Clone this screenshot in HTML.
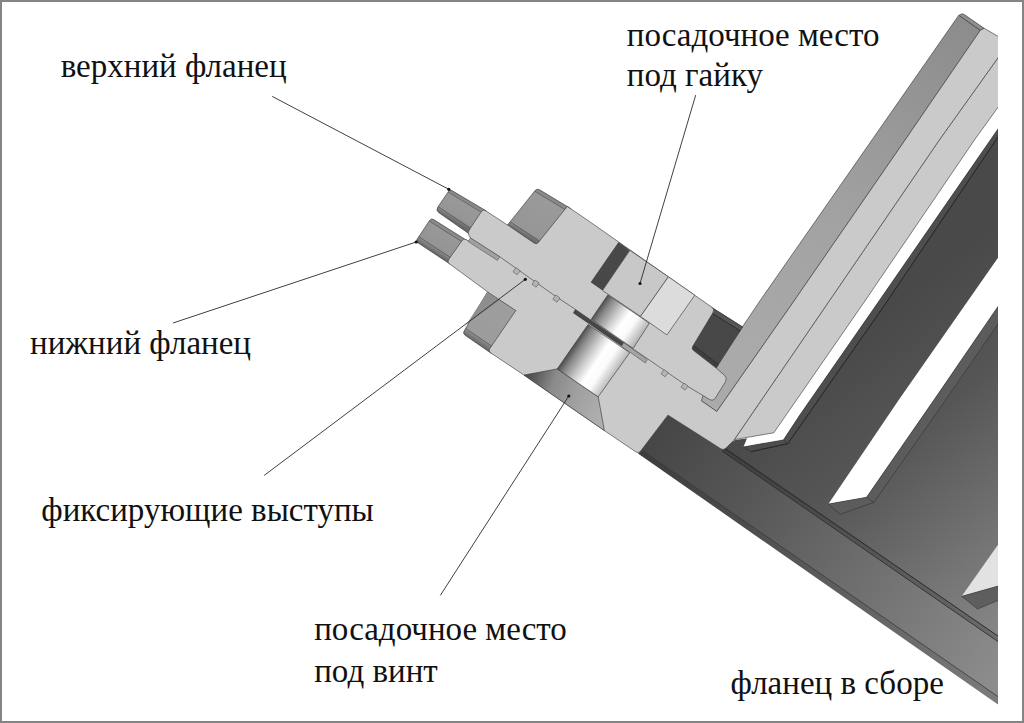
<!DOCTYPE html>
<html><head><meta charset="utf-8"><title>фланец в сборе</title>
<style>
html,body{margin:0;padding:0;background:#fff;}
body{width:1024px;height:723px;overflow:hidden;position:relative;font-family:"Liberation Serif",serif;}
#frame{position:absolute;left:0;top:0;width:1020px;height:719px;border:2px solid #848484;}
svg{position:absolute;left:0;top:0;}
svg text{font-family:"Liberation Serif",serif;font-size:33px;fill:#111;}
</style></head><body>
<svg width="1024" height="723" viewBox="0 0 1024 723">
<defs>
<clipPath id="clip"><rect x="0" y="0" width="998" height="723"/></clipPath>
<linearGradient id="gBase" gradientUnits="userSpaceOnUse" x1="800" y1="380" x2="1000" y2="630">
  <stop offset="0" stop-color="#494949"/><stop offset="0.35" stop-color="#565656"/><stop offset="1" stop-color="#868686"/></linearGradient>
<linearGradient id="gBand" gradientUnits="userSpaceOnUse" x1="640" y1="440" x2="1000" y2="690">
  <stop offset="0" stop-color="#454545"/><stop offset="0.3" stop-color="#585858"/><stop offset="1" stop-color="#8e8e8e"/></linearGradient>
<linearGradient id="gStripe2" gradientUnits="userSpaceOnUse" x1="860" y1="500" x2="1000" y2="330">
  <stop offset="0" stop-color="#5c5c5c"/><stop offset="1" stop-color="#6e6e6e"/></linearGradient>
<linearGradient id="gPlateSide" gradientUnits="userSpaceOnUse" x1="970" y1="20" x2="740" y2="350">
  <stop offset="0" stop-color="#8c8c8c"/><stop offset="0.6" stop-color="#a2a2a2"/><stop offset="1" stop-color="#aaaaaa"/></linearGradient>
<linearGradient id="gBoreL" gradientUnits="userSpaceOnUse" x1="573" y1="345" x2="616" y2="374">
  <stop offset="0" stop-color="#484848"/><stop offset="0.14" stop-color="#868686"/><stop offset="0.38" stop-color="#cfcfcf"/>
  <stop offset="0.56" stop-color="#ffffff"/><stop offset="0.74" stop-color="#fbfbfb"/>
  <stop offset="1" stop-color="#b4b4b4"/></linearGradient>
<linearGradient id="gBoreU" gradientUnits="userSpaceOnUse" x1="599" y1="306" x2="641" y2="336">
  <stop offset="0" stop-color="#484848"/><stop offset="0.14" stop-color="#868686"/><stop offset="0.38" stop-color="#cfcfcf"/>
  <stop offset="0.56" stop-color="#ffffff"/><stop offset="0.74" stop-color="#fbfbfb"/>
  <stop offset="1" stop-color="#b4b4b4"/></linearGradient>
<linearGradient id="gCsk" gradientUnits="userSpaceOnUse" x1="530" y1="378" x2="603" y2="405">
  <stop offset="0" stop-color="#505050"/><stop offset="0.3" stop-color="#8a8a8a"/><stop offset="0.6" stop-color="#9e9e9e"/><stop offset="1" stop-color="#aeaeae"/></linearGradient>
</defs>
<defs><linearGradient id="gf1" gradientUnits="userSpaceOnUse" x1="431.2" y1="218.0" x2="416.2" y2="241.7"><stop offset="0" stop-color="#868686"/><stop offset="0.13" stop-color="#8c8c8c"/><stop offset="0.13" stop-color="#989898"/><stop offset="0.8" stop-color="#949494"/><stop offset="0.8" stop-color="#8e8e8e"/><stop offset="1" stop-color="#666666"/></linearGradient><linearGradient id="gf2" gradientUnits="userSpaceOnUse" x1="487.6" y1="291.8" x2="460.9" y2="332.5"><stop offset="0" stop-color="#9e9e9e"/><stop offset="0.875" stop-color="#9c9c9c"/><stop offset="0.875" stop-color="#909090"/><stop offset="1" stop-color="#686868"/></linearGradient><linearGradient id="gf3" gradientUnits="userSpaceOnUse" x1="537.0" y1="188.3" x2="513.1" y2="228.3"><stop offset="0" stop-color="#868686"/><stop offset="0.08" stop-color="#8c8c8c"/><stop offset="0.08" stop-color="#9a9a9a"/><stop offset="0.91" stop-color="#969696"/><stop offset="0.91" stop-color="#8e8e8e"/><stop offset="1" stop-color="#6a6a6a"/></linearGradient><linearGradient id="gf4" gradientUnits="userSpaceOnUse" x1="449.9" y1="189.3" x2="436.9" y2="211.2"><stop offset="0" stop-color="#868686"/><stop offset="0.13" stop-color="#8c8c8c"/><stop offset="0.13" stop-color="#999999"/><stop offset="0.82" stop-color="#959595"/><stop offset="0.82" stop-color="#8f8f8f"/><stop offset="1" stop-color="#686868"/></linearGradient></defs>
<g clip-path="url(#clip)">
<polygon points="1000.0,84.0 1000.0,640.0 722.0,449.0 735.0,440.0 750.0,438.0" fill="url(#gBase)" stroke-linejoin="round" />
<polygon points="1000.0,637.0 1000.0,706.0 638.0,453.5 668.0,415.0 724.0,450.0" fill="url(#gBand)" stroke-linejoin="round" />
<polygon points="724.0,447.5 1000.0,637.5 1000.0,643.0 722.0,451.0" fill="#000" stroke-linejoin="round" fill-opacity="0.22"/>
<line x1="724" y1="447.5" x2="1000" y2="637.5" stroke="#2c2c2c" stroke-width="1.0"/>
<line x1="722" y1="451" x2="1000" y2="643" stroke="#2e2e2e" stroke-width="0.9"/>
<polygon points="643.0,451.0 1000.0,698.0 1000.0,706.0 638.0,453.5" fill="#000" stroke-linejoin="round" fill-opacity="0.13"/>
<line x1="643" y1="451" x2="1000" y2="698" stroke="#3a3a3a" stroke-width="0.8"/>
<polygon points="1000.0,98.0 1000.0,126.0 879.7,300.0 799.8,415.0 783.4,439.9 743.4,446.9 747.6,437.0 760.0,430.0" fill="#ffffff" stroke-linejoin="round" />
<polygon points="1000.0,126.0 1000.0,134.0 886.0,303.0 787.8,443.7 751.0,451.6 743.4,446.9 783.4,439.9 799.8,415.0 879.7,300.0" fill="#4e4e4e" stroke="#2c2c2c" stroke-width="0.5" stroke-linejoin="round" />
<polyline points="1000.0,134.0 886.0,303.0 787.8,443.7 751.0,451.6" fill="none" stroke="#262626" stroke-width="0.9" stroke-linejoin="round"/>
<line x1="783.4" y1="439.9" x2="787.8" y2="443.7" stroke="#2c2c2c" stroke-width="0.5"/>
<polygon points="1000.0,255.0 1000.0,303.5 933.9,400.0 866.5,497.3 828.4,504.0 898.7,400.0" fill="#ffffff" stroke-linejoin="round" />
<polygon points="1000.0,303.5 1000.0,321.0 945.6,400.0 873.8,502.5 840.1,514.3 828.4,504.0 866.5,497.3 933.9,400.0" fill="#5c5c5c" stroke="#2c2c2c" stroke-width="0.5" stroke-linejoin="round" />
<line x1="866.5" y1="497.3" x2="873.8" y2="502.5" stroke="#2c2c2c" stroke-width="0.5"/>
<polygon points="1000.0,542.0 961.7,596.3 1000.0,585.5" fill="#e2e2e2" stroke-linejoin="round" />
<polygon points="961.7,596.3 1000.0,585.5 1000.0,599.6 977.5,609.0" fill="#5e5e5e" stroke="#2c2c2c" stroke-width="0.5" stroke-linejoin="round" />
<polygon points="958.8,15.2 760.5,300.0 734.9,338.0 700.0,350.0 701.5,400.9 716.8,411.5 794.7,300.0 905.1,140.0 980.3,30.3" fill="url(#gPlateSide)" stroke="#333" stroke-width="0.6" stroke-linejoin="round" />
<path d="M959.6,15.8 Q958.8,15.2 959.7,14.8 L960.9,14.2 Q962.7,13.4 964.3,14.5 L984.2,28.3 L980.3,30.3 Z" fill="#8e8e8e" stroke="#333" stroke-width="0.6" stroke-linejoin="round" />
<polygon points="1000.0,55.0 1000.0,104.5 974.4,140.0 865.6,300.0 773.8,432.8 734.3,439.6 829.9,300.0 939.3,140.0" fill="#cacaca" stroke="#333" stroke-width="0.6" stroke-linejoin="round" />
</g>
<path d="M429.5,220.5 Q431.2,218.0 433.7,219.6 L467.0,240.5 L450.3,264.2 L417.8,242.8 Q415.7,241.4 417.1,239.3 Z" fill="url(#gf1)" stroke="#333" stroke-width="0.6" stroke-linejoin="round" />
<line x1="429.2" y1="221.0" x2="464.8" y2="243.6" stroke="#3a3a3a" stroke-width="0.5"/>
<line x1="418.8" y1="236.7" x2="453.7" y2="259.5" stroke="#3a3a3a" stroke-width="0.5"/>
<path d="M487.6,291.8 L519.2,312.6 L491.4,353.4 L465.1,335.3 Q462.6,333.6 464.1,331.0 Z" fill="url(#gf2)" stroke="#333" stroke-width="0.6" stroke-linejoin="round" />
<line x1="465.7" y1="328.4" x2="494.9" y2="348.3" stroke="#3a3a3a" stroke-width="0.5"/>
<polygon points="487.6,291.8 500.0,299.9 467.2,324.0 464.5,327.5" fill="#8e8e8e" stroke-linejoin="round" />
<g clip-path="url(#clip)">
<path d="M515.9,310.4 L499.0,262.0 L575.2,300.0 L640.0,340.0 L704.0,392.0 L701.5,400.9 L716.8,411.5 L794.7,300.0 L905.1,140.0 L980.3,30.3 L984.2,28.3 L1000.0,37.5 L1000.0,55.0 L939.3,140.0 L829.9,300.0 L734.3,439.6 L726.0,448.1 Q723.6,450.6 720.7,448.7 L667.9,415.0 L640.7,451.0 Q638.6,453.8 635.7,451.8 L604.4,430.6 L524.0,375.1 L490.6,352.8 Q488.1,351.1 489.8,348.6 Z" fill="#cacaca" stroke="#333" stroke-width="0.6" stroke-linejoin="round" />
</g>
<path d="M462.2,240.4 Q463.6,238.4 465.8,239.5 L497.4,255.0 L560.0,285.0 L515.9,310.4 L487.6,291.8 L449.4,263.8 Q447.0,262.0 448.7,259.5 Z" fill="#cacaca" stroke="#333" stroke-width="0.6" stroke-linejoin="round" />
<polygon points="497.4,255.0 585.0,300.0 560.0,330.0 516.5,310.4 488.3,291.8" fill="#cacaca" stroke-linejoin="round" />
<polygon points="524.0,375.1 557.2,368.9 598.2,396.8 604.4,430.6" fill="url(#gCsk)" stroke="#333" stroke-width="0.6" stroke-linejoin="round" />
<polygon points="557.2,368.9 588.1,324.5 629.7,352.7 598.2,396.8" fill="url(#gBoreL)" stroke="#333" stroke-width="0.6" stroke-linejoin="round" />
<path d="M711.0,307.0 L742.6,327.0 L716.2,368.1 L693.6,350.6 Q691.2,348.8 692.5,346.1 Z" fill="#484848" stroke="#333" stroke-width="0.6" stroke-linejoin="round" />
<polygon points="711.0,307.0 742.6,327.0 740.1,330.9 708.5,310.9" fill="#555555" stroke-linejoin="round" />
<line x1="708.5" y1="310.9" x2="740.1" y2="330.9" stroke="#262626" stroke-width="0.9"/>
<line x1="711.0" y1="307.0" x2="742.6" y2="327.0" stroke="#333" stroke-width="0.6"/>
<polygon points="692.9,344.9 718.6,364.4 716.2,368.1 691.2,348.8" fill="#3e3e3e" stroke-linejoin="round" />
<line x1="692.9" y1="344.9" x2="718.6" y2="364.4" stroke="#2a2a2a" stroke-width="0.7"/>
<path d="M535.1,190.6 Q537.0,188.3 539.6,189.8 L570.7,208.5 L539.8,246.9 L507.5,225.0 Z" fill="url(#gf3)" stroke="#333" stroke-width="0.6" stroke-linejoin="round" />
<line x1="534.6" y1="191.2" x2="568.3" y2="211.5" stroke="#3a3a3a" stroke-width="0.5"/>
<line x1="510.2" y1="221.7" x2="542.6" y2="243.5" stroke="#3a3a3a" stroke-width="0.5"/>
<path d="M448.5,191.4 Q449.9,189.3 452.0,190.6 L486.5,211.1 L470.8,235.0 L438.9,212.7 Q435.6,210.4 437.8,207.1 Z" fill="url(#gf4)" stroke="#333" stroke-width="0.6" stroke-linejoin="round" />
<line x1="448.0" y1="192.0" x2="484.5" y2="214.2" stroke="#3a3a3a" stroke-width="0.5"/>
<line x1="438.2" y1="206.6" x2="473.6" y2="230.7" stroke="#3a3a3a" stroke-width="0.5"/>
<path d="M481.4,211.6 Q483.1,209.1 485.6,210.7 L505.8,223.9 Q507.5,225.0 509.2,226.1 L534.0,243.0 Q536.5,244.7 538.4,242.4 L567.3,206.4 L587.3,220.0 L711.7,307.1 Q715.0,309.4 712.9,312.8 L692.8,346.2 Q691.2,348.8 693.6,350.6 L716.2,368.1 L724.4,375.2 Q727.8,378.1 725.4,381.9 L715.5,397.8 Q713.1,401.6 709.2,399.3 L687.5,386.3 L643.5,356.0 L623.8,342.7 L575.2,309.3 L556.4,296.8 L499.8,256.8 L470.4,237.9 L468.9,235.3 Q467.5,232.7 469.1,230.2 Z" fill="#cacaca" stroke="#333" stroke-width="0.6" stroke-linejoin="round" />
<polygon points="470.4,237.9 499.8,256.8 497.4,260.4 468.2,241.6" fill="#a0a0a0" stroke="#444" stroke-width="0.5" stroke-linejoin="round" />
<polygon points="607.8,294.9 649.3,323.2 633.2,348.4 591.2,319.3" fill="url(#gBoreU)" stroke="#333" stroke-width="0.6" stroke-linejoin="round" />
<polygon points="575.2,309.3 623.8,342.7 621.5,346.2 573.0,313.0" fill="#464646" stroke-linejoin="round" />
<polygon points="623.8,342.7 647.3,359.7 645.3,363.0 621.5,346.2" fill="#a4a4a4" stroke="#444" stroke-width="0.5" stroke-linejoin="round" />
<polygon points="618.6,241.9 629.9,250.3 602.5,290.5 590.7,282.2" fill="#484848" stroke-linejoin="round" />
<polygon points="629.9,250.3 668.4,276.8 640.5,316.4 602.5,290.5" fill="#c8c8c8" stroke="#333" stroke-width="0.6" stroke-linejoin="round" />
<polygon points="668.4,276.8 694.8,295.2 666.9,334.9 640.5,316.4" fill="#dcdcdc" stroke="#333" stroke-width="0.6" stroke-linejoin="round" />
<polygon points="516.0,267.6 520.2,270.6 517.2,274.8 513.0,271.8" fill="#b4b4b4" stroke="#444" stroke-width="0.5" stroke-linejoin="round" />
<polygon points="535.0,280.0 539.2,283.0 536.2,287.2 532.0,284.2" fill="#b4b4b4" stroke="#444" stroke-width="0.5" stroke-linejoin="round" />
<polygon points="555.8,295.0 560.0,298.0 557.0,302.2 552.8,299.2" fill="#b4b4b4" stroke="#444" stroke-width="0.5" stroke-linejoin="round" />
<polygon points="664.0,369.6 668.2,372.6 665.2,376.8 661.0,373.8" fill="#b4b4b4" stroke="#444" stroke-width="0.5" stroke-linejoin="round" />
<polygon points="683.9,383.0 688.1,386.0 685.1,390.2 680.9,387.2" fill="#b4b4b4" stroke="#444" stroke-width="0.5" stroke-linejoin="round" />
<line x1="272.2" y1="96.4" x2="448.8" y2="189.3" stroke="#2a2a2a" stroke-width="0.9"/>
<circle cx="448.8" cy="189.3" r="1.6" fill="#111"/>
<line x1="695.7" y1="95.1" x2="640" y2="283.5" stroke="#2a2a2a" stroke-width="0.9"/>
<circle cx="640" cy="283.5" r="1.6" fill="#111"/>
<line x1="173" y1="323" x2="416.2" y2="242.0" stroke="#2a2a2a" stroke-width="0.9"/>
<circle cx="416.2" cy="242.0" r="1.6" fill="#111"/>
<line x1="264.2" y1="475.4" x2="525.3" y2="279.3" stroke="#2a2a2a" stroke-width="0.9"/>
<circle cx="525.3" cy="279.3" r="1.6" fill="#111"/>
<line x1="440.3" y1="595.4" x2="568.8" y2="396.0" stroke="#2a2a2a" stroke-width="0.9"/>
<circle cx="568.8" cy="396.0" r="1.6" fill="#111"/>
<text x="60.7" y="76.8">верхний фланец</text>
<text x="626.8" y="46.2">посадочное место</text>
<text x="626.8" y="85.9">под гайку</text>
<text x="30.0" y="353.7">нижний фланец</text>
<text x="41.3" y="520.9">фиксирующие выступы</text>
<text x="314.2" y="640.3">посадочное место</text>
<text x="314.2" y="681.9">под винт</text>
<text x="730.6" y="693.7">фланец в сборе</text>
</svg>
<div id="frame"></div>
</body></html>
